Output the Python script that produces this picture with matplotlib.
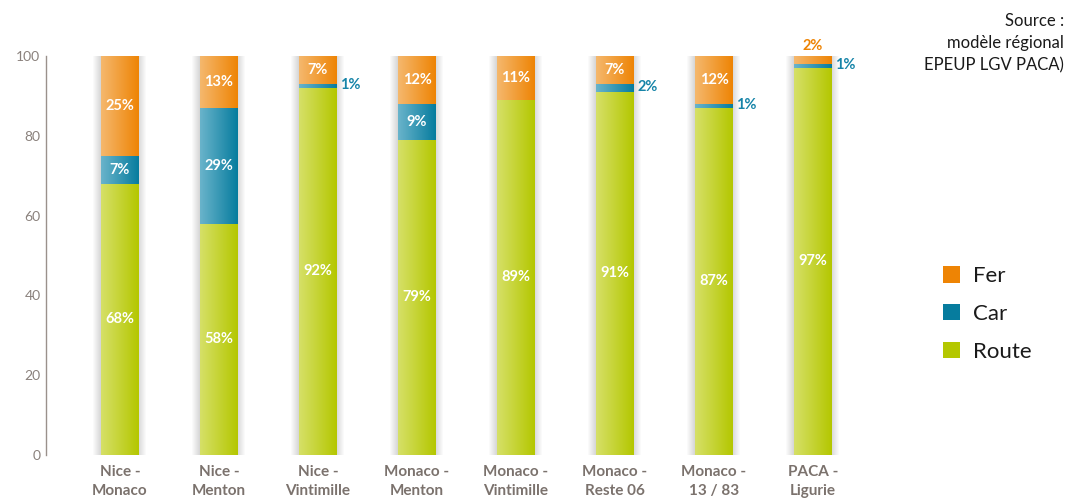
import numpy as np
import matplotlib
matplotlib.use("Agg")
import matplotlib.pyplot as plt
from matplotlib.colors import LinearSegmentedColormap
from matplotlib.patches import Rectangle

# Modal split per origin-destination pair (%)
categories = ["Nice -\nMonaco", "Nice -\nMenton", "Nice -\nVintimille", "Monaco -\nMenton",
              "Monaco -\nVintimille", "Monaco -\nReste 06", "Monaco -\n13 / 83", "PACA -\nLigurie"]
route = [68, 58, 92, 79, 89, 91, 87, 97]
car = [7, 29, 1, 9, 0, 2, 1, 1]
fer = [25, 13, 7, 12, 11, 7, 12, 2]
yticks = [0, 20, 40, 60, 80, 100]
source_text = "Source :\nmodèle régional\nEPEUP LGV PACA)"

# (light left edge, saturated right edge) for each mode
styles = {
    "Route": ("#d6e068", "#b4c700"),
    "Car": ("#6ab4cb", "#067c9e"),
    "Fer": ("#f5b86e", "#ee8404"),
}
label_colors = {"Car": "#1684a8", "Fer": "#ee8404"}

plt.rcParams["font.family"] = ["Lato", "DejaVu Sans"]

W, H = 1068, 500
fig = plt.figure(figsize=(W / 100, H / 100), dpi=100)
ax = fig.add_axes([46 / W, 45 / H, 814 / W, 399 / H])

x = np.arange(len(categories))
width = 0.374
xlim = (-0.747, 7.475)
ylim = (0, 100)
px_x = (xlim[1] - xlim[0]) / 814
px_y = (ylim[1] - ylim[0]) / 399

# soft shadow around each bar
totals = np.array(route) + np.array(car) + np.array(fer)
for xi, tot in zip(x, totals):
    for k in range(1, 9):
        ax.add_patch(Rectangle((xi - width / 2 - k * px_x, 0 - k * px_y * 0.3),
                               width + 2 * k * px_x, tot + 2 * k * px_y * 0.6,
                               facecolor="#000000", edgecolor="none",
                               alpha=0.018, zorder=1))

grad = np.linspace(0, 1, 256).reshape(1, -1)
bottom = np.zeros(len(categories))
for name, vals in [("Route", route), ("Car", car), ("Fer", fer)]:
    light, dark = styles[name]
    cmap = LinearSegmentedColormap.from_list(name, [light, dark])
    bars = ax.bar(x, vals, width, bottom=bottom, color=dark, edgecolor="none",
                  zorder=2, label=name)
    for b in bars:
        if b.get_height() <= 0:
            continue
        bx, by = b.get_x(), b.get_y()
        im = ax.imshow(grad, cmap=cmap, aspect="auto", zorder=3,
                       extent=(bx, bx + b.get_width(), by, by + b.get_height()),
                       interpolation="bilinear")
        im.set_clip_path(b)
    for xi, v, b0 in zip(x, vals, bottom):
        if v <= 0:
            continue
        if v >= 5:
            ax.text(xi, b0 + v / 2, f"{v}%", ha="center", va="center", color="white",
                    fontsize=10.5, fontweight="bold", zorder=5)
        elif name == "Car":
            ax.text(xi + width / 2 + 4 * px_x, b0 + v / 2 + 0.3, f"{v}%", ha="left",
                    va="center", color=label_colors[name], fontsize=10.5,
                    fontweight="bold", zorder=5)
        else:
            ax.text(xi, b0 + v + 2.5, f"{v}%", ha="center", va="center",
                    color=label_colors[name], fontsize=10.5, fontweight="bold", zorder=5)
    bottom = bottom + np.array(vals)

ax.set_xlim(*xlim)
ax.set_ylim(*ylim)
ax.set_yticks(yticks)
ax.set_xticks(x)
ax.set_xticklabels(categories, fontsize=11, fontweight="bold", color="#7b726d",
                   linespacing=1.5)
ax.tick_params(axis="x", length=0, pad=7)
ax.tick_params(axis="y", length=0, pad=4, labelsize=10, labelcolor="#8a817c")
for side in ["top", "right", "bottom"]:
    ax.spines[side].set_visible(False)
ax.spines["left"].set_color("#9a918c")
ax.spines["left"].set_linewidth(1.0)
ax.patch.set_alpha(0)

# legend in Fer / Car / Route order
handles, labels = ax.get_legend_handles_labels()
order = [labels.index(n) for n in ["Fer", "Car", "Route"]]
leg = fig.legend([handles[i] for i in order], [labels[i] for i in order],
                 loc="upper left", bbox_to_anchor=(932 / W, 1 - 255 / H),
                 frameon=False, fontsize=16, handlelength=0.75, handleheight=0.75,
                 handletextpad=0.6, labelspacing=0.8, borderpad=0)
for t in leg.get_texts():
    t.set_color("#1a1a1a")

fig.text(1064 / W, 1 - 13 / H, source_text, ha="right", va="top", fontsize=12,
         color="#1a1a1a", linespacing=1.48)

fig.savefig("out.png", dpi=100)
